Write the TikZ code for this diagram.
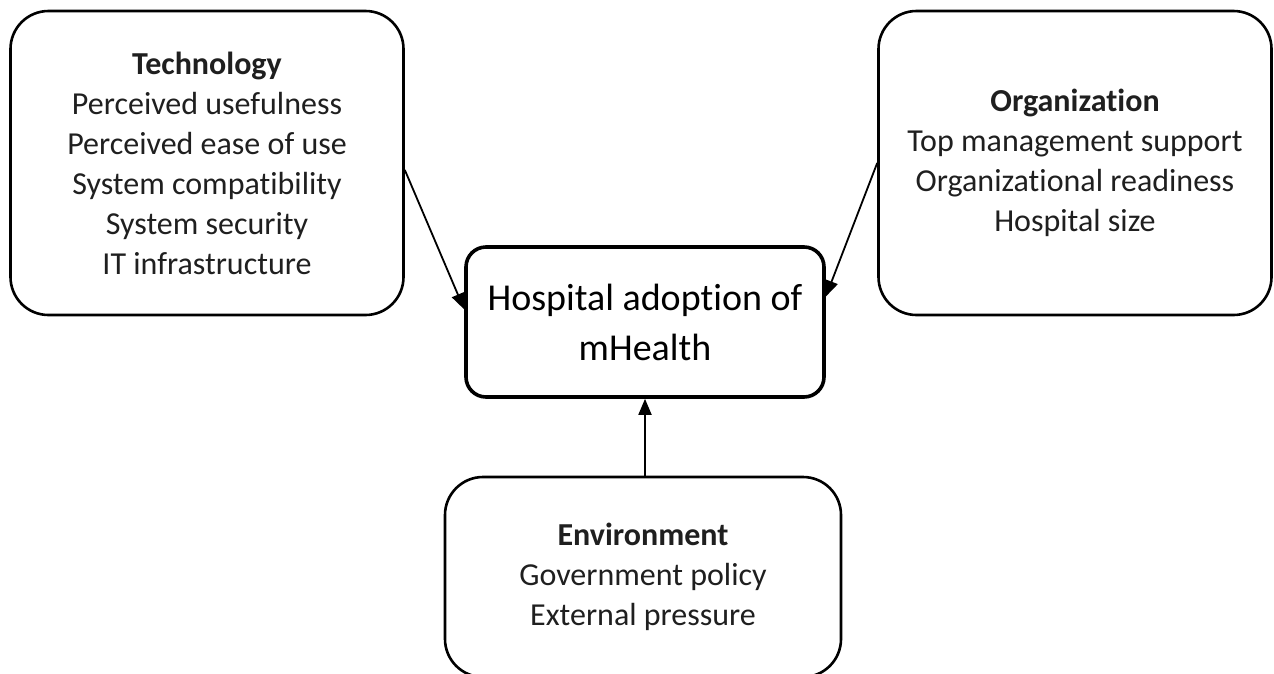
\documentclass[tikz,border=0pt]{standalone}
\usepackage{fontspec}
\setmainfont{Carlito}[Ligatures={NoCommon}]
\usetikzlibrary{arrows.meta}
\definecolor{lighttext}{gray}{0.12}
\begin{document}
\begin{tikzpicture}[x=1pt,y=-1pt,
  factor/.style={draw=black,line width=2.6pt,rounded corners=38pt,align=center,
    inner sep=0pt,text=lighttext,font=\fontsize{32}{40}\selectfont},
  hubbox/.style={draw=black,line width=3.6pt,rounded corners=20pt,align=center,
    inner sep=0pt,font=\fontsize{38}{50}\selectfont,
    minimum width=358pt,minimum height=150pt},
  conn/.style={line width=1.8pt,-{Triangle[length=16pt,width=13pt]}}]
\useasboundingbox (0,0) rectangle (1274,673);
\node[factor,minimum width=393pt,minimum height=304pt] (tech) at (207,163)
  {\textbf{Technology}\\Perceived usefulness\\Perceived ease of use\\System compatibility\\System security\\IT infrastructure};
\node[factor,minimum width=393pt,minimum height=304pt] (org) at (1075,163)
  {\textbf{Organization}\\Top management support\\Organizational readiness\\Hospital size};
\node[factor,minimum width=396pt,minimum height=200pt] (env) at (643,577)
  {\textbf{Environment}\\Government policy\\External pressure};
\node[hubbox] (hub) at (645,322) {Hospital adoption of\\mHealth};
\draw[conn] (tech.-2) -- (hub.176);
\draw[conn] (org.west) -- (hub.8);
\draw[conn] (env.north -| hub.south) -- (hub.south);
\end{tikzpicture}
\end{document}
